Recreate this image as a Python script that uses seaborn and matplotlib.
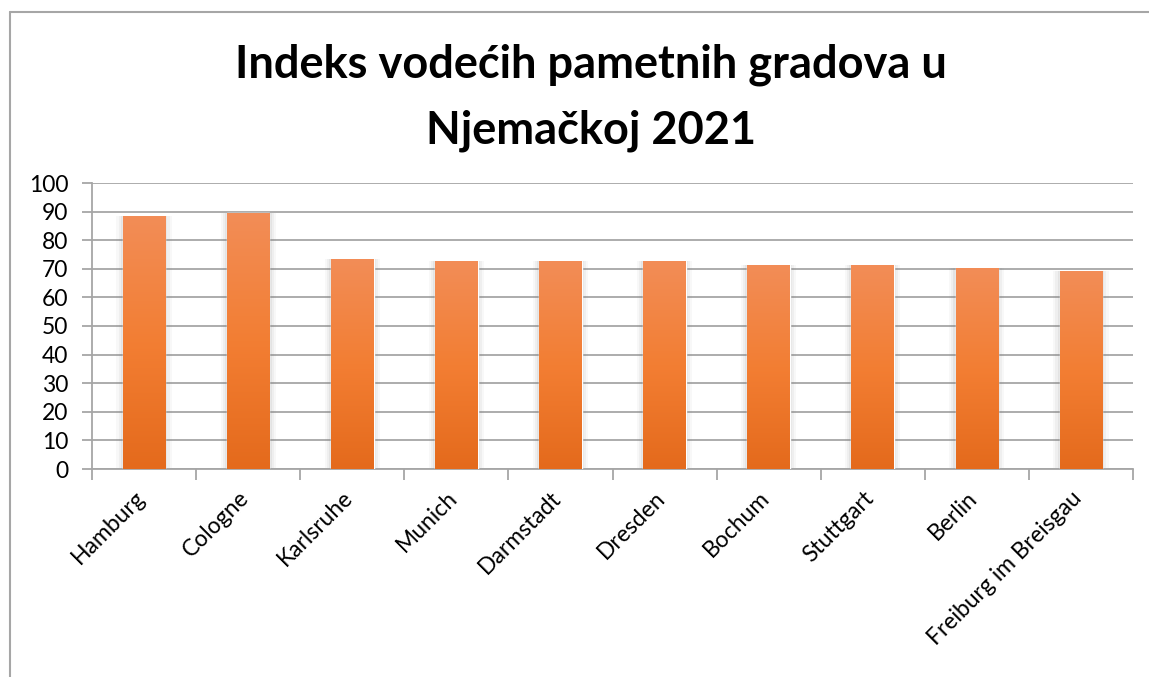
import numpy as np
import pandas as pd
import matplotlib
matplotlib.use("Agg")
import matplotlib.pyplot as plt
import seaborn as sns
from matplotlib.lines import Line2D
from matplotlib.colors import LinearSegmentedColormap
from matplotlib.patches import Rectangle
from matplotlib.transforms import ScaledTranslation

cities = ["Hamburg", "Cologne", "Karlsruhe", "Munich", "Darmstadt",
          "Dresden", "Bochum", "Stuttgart", "Berlin", "Freiburg im Breisgau"]
scores = [88.4, 89.4, 73.3, 72.7, 72.7, 72.7, 71.3, 71.3, 70.2, 69.2]
yticks = [0, 10, 20, 30, 40, 50, 60, 70, 80, 90, 100]
title_lines = ["Indeks vodećih pametnih gradova u", "Njemačkoj 2021"]

df = pd.DataFrame({"city": cities, "score": scores})

sns.set_theme(style="white")
plt.rcParams["font.family"] = ["Lato", "DejaVu Sans"]

W, H = 1149, 677
fig = plt.figure(figsize=(W / 100, H / 100), dpi=100)
ax = fig.add_axes([92 / W, 1 - 469 / H, (1133 - 92) / W, (469 - 183) / H])

sns.barplot(data=df, x="city", y="score", ax=ax, color="#F37E33",
            width=0.41, saturation=1, zorder=3)

ax.set_ylim(0, 100)
ax.set_xlim(-0.5, len(cities) - 0.5)
ax.set_yticks(yticks)
ax.set_yticklabels([str(t) for t in yticks], fontsize=16.5)
ax.set_xlabel("")
ax.set_ylabel("")

grid_c = "#A6A6A6"
ax.yaxis.grid(True, color=grid_c, linewidth=1.3, zorder=0)
ax.xaxis.grid(False)
for s in ["top", "right"]:
    ax.spines[s].set_visible(False)
for s in ["left", "bottom"]:
    ax.spines[s].set_color(grid_c)
    ax.spines[s].set_linewidth(1.3)

ax.tick_params(axis="y", which="major", left=True, length=7, width=1.3,
               color=grid_c, pad=10, labelcolor="black")
ax.set_xticks(range(len(cities)))
ax.set_xticks(np.arange(-0.5, len(cities), 1.0), minor=True)
ax.tick_params(axis="x", which="major", bottom=False, length=0, pad=13)
ax.tick_params(axis="x", which="minor", bottom=True, length=8, width=1.3,
               color=grid_c)
ax.set_xticklabels(cities, rotation=45, ha="right", rotation_mode="anchor",
                   fontsize=16.5, color="black")
shift = ScaledTranslation(-10 / 100, 0, fig.dpi_scale_trans)
for lbl in ax.get_xticklabels():
    lbl.set_transform(lbl.get_transform() + shift)

# gradient fill + soft shadow for bars
cmap = LinearSegmentedColormap.from_list(
    "orangegrad", ["#E46A1C", "#F37E33", "#F28D57"])
grad = np.linspace(0, 1, 256).reshape(-1, 1)
for bar in list(ax.patches):
    x0, w, h = bar.get_x(), bar.get_width(), bar.get_height()
    for k, a in [(0.06, 0.05), (0.04, 0.07), (0.02, 0.10)]:
        ax.add_patch(Rectangle((x0 - k, 0), w + 2 * k, h + 0.25 * k * 10,
                               facecolor="#808080", edgecolor="none",
                               alpha=a, zorder=2))
    ax.imshow(grad, extent=[x0, x0 + w, 0, h], origin="lower", cmap=cmap,
              aspect="auto", zorder=4, interpolation="bilinear")
ax.set_xlim(-0.5, len(cities) - 0.5)
ax.set_ylim(0, 100)

# title
tx = 591 / W
fig.text(tx, 1 - 78 / H, title_lines[0], ha="center", va="baseline",
         fontsize=32.5, fontweight="bold", color="black")
fig.text(tx, 1 - 143 / H, title_lines[1], ha="center", va="baseline",
         fontsize=32.5, fontweight="bold", color="black")

# chart border (top and left visible)
border_c = "#A6A6A6"
fig.add_artist(Line2D([10 / W, 1.0], [1 - 12 / H, 1 - 12 / H],
                      transform=fig.transFigure, color=border_c, linewidth=1.5))
fig.add_artist(Line2D([10 / W, 10 / W], [0.0, 1 - 12 / H],
                      transform=fig.transFigure, color=border_c, linewidth=1.5))

fig.savefig("out.png", dpi=100, facecolor="white")
